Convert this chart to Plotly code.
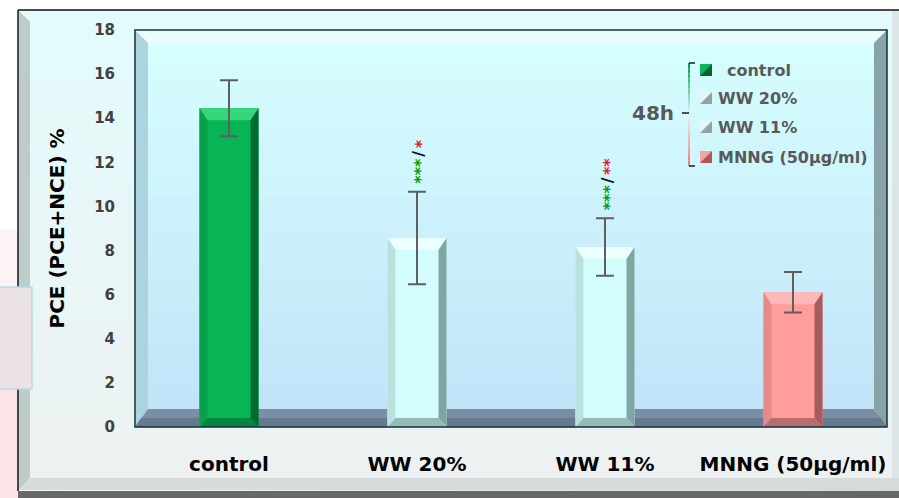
import plotly.graph_objects as go

# ---- data -------------------------------------------------------------
categories = ["control", "WW 20%", "WW 11%", "MNNG (50µg/ml)"]
pce_mean = [14.45, 8.57, 8.16, 6.11]
pce_err = [1.27, 2.10, 1.30, 0.92]
sig_vs_control = ["", "***", "***", ""]
sig_vs_mnng = ["", "*", "**", ""]
y_ticks = [0, 2, 4, 6, 8, 10, 12, 14, 16, 18]
group_label = "48h"

# ---- style --------------------------------------------------------------
FONT = "DejaVu Sans"
# face, top bevel, left bevel, right bevel, bottom bevel
bar_colors = [
    ("#08b556", "#36d67c", "#07a24c", "#006a30", "#05853f"),
    ("#d3fcfc", "#ebffff", "#b9e2de", "#7fa6a2", "#96bab6"),
    ("#d3fcfc", "#ebffff", "#b9e2de", "#7fa6a2", "#96bab6"),
    ("#ff9d9d", "#ffb8b8", "#e48a8a", "#a45c5c", "#b86c6c"),
]
legend_colors = [
    ("#0bb457", "#00692e"),
    ("#e6f5f5", "#8ea5a5"),
    ("#e6f5f5", "#8ea5a5"),
    ("#f5a3a3", "#b05858"),
]

W_PX, H_PX = 899, 498
L, R, T, B = 135, 887, 30, 427
BAR_HALF = 0.157
Y_MAX = 18.0
PX_PER_Y = (B - T) / Y_MAX
PX_PER_X = (R - L) / 4.0


def fx(px):
    return (px - L) / (R - L)


def fy(py):
    return (B - py) / (B - T)


def poly(points):
    pts = [f"{fx(x):.5f},{fy(y):.5f}" for x, y in points]
    return "M " + " L ".join(pts) + " Z"


def mix(c1, c2, t):
    a = [int(c1[i:i + 2], 16) for i in (1, 3, 5)]
    b = [int(c2[i:i + 2], 16) for i in (1, 3, 5)]
    return "#" + "".join(f"{round(a[k] + (b[k] - a[k]) * t):02x}" for k in range(3))


shapes = []


def add_poly(points, fill, layer="below", line=None):
    shapes.append(dict(type="path", path=poly(points), xref="paper", yref="paper",
                       fillcolor=fill, line=line or dict(width=0), layer=layer))


def add_rect(x0, y0, x1, y1, fill, layer="below", line=None):
    shapes.append(dict(type="rect", xref="paper", yref="paper",
                       x0=fx(x0), x1=fx(x1), y0=fy(y1), y1=fy(y0),
                       fillcolor=fill, line=line or dict(width=0), layer=layer))


def add_line(x0, y0, x1, y1, color, width, layer="below"):
    shapes.append(dict(type="line", xref="paper", yref="paper",
                       x0=fx(x0), x1=fx(x1), y0=fy(y0), y1=fy(y1),
                       line=dict(color=color, width=width), layer=layer))


# page haze on the left edge
add_rect(0, 230, 18, 380, "#fdf3f4")
add_rect(0, 380, 18, 498, "#fbe3e7")

# outer panel with a soft vertical gradient
n = 14
for i in range(n):
    y0 = 10 + (480 * i) / n
    y1 = 10 + (480 * (i + 1)) / n
    add_rect(18, y0, W_PX, y1 + 0.5, mix("#e3fbfc", "#eef1f1", i / (n - 1)))
# outer bevels
add_poly([(19, 11), (30, 22), (30, 478), (19, 490)], "#bdcbcb")
add_poly([(19, 490), (30, 478), (W_PX, 478), (W_PX, 491)], "#d6dbdb")
add_rect(18, 491, W_PX, H_PX, "#686868")
add_rect(892, 11, W_PX, 478, "#dde6e7")
add_line(18, 10, W_PX, 10, "#111111", 1.5)
add_line(18, 10, 18, 491, "#111111", 1.5)

# plot area gradient
n = 24
for i in range(n):
    y0 = T + ((B - T) * i) / n
    y1 = T + ((B - T) * (i + 1)) / n
    add_rect(L, y0, R, y1 + 0.5, mix("#d6ffff", "#c2e2f8", i / (n - 1)))
# plot area bevels
bw, bb = 13, 18
add_poly([(L, T), (R, T), (R - bw, T + bw), (L + bw, T + bw)], "#eafefe")
add_poly([(L, T), (L + bw, T + bw), (L + bw, B - bb), (L, B)], "#acd4de")
add_poly([(R, T), (R, B), (R - bw, B - bb), (R - bw, T + bw)], "#88a3a7")
add_poly([(L, B), (L + bw, B - bb), (R - bw, B - bb), (R, B)], "#7b8fa4")
add_poly([(L + 6, B - 9), (R - 6, B - 9), (R, B), (L, B)], "#66798e")

# side note box overlapping the frame
add_rect(-2, 287, 32, 389, "#ebe3e3", layer="above",
         line=dict(color="#b4dde6", width=1.5))

# plot border
shapes.append(dict(type="rect", xref="paper", yref="paper", x0=0, x1=1, y0=0, y1=1,
                   line=dict(color="#13303d", width=1.5), layer="above"))

# legend swatches
leg_y = [70, 98, 127, 157]
leg_x = [725, 716, 716, 716]
for (light, dark), yc in zip(legend_colors, leg_y):
    add_rect(700, yc - 6, 712, yc + 6, light, layer="above")
    add_poly([(712, yc - 6), (712, yc + 6), (700, yc + 6)], dark, layer="above")

# bracket grouping the legend entries
top_b, bot_b, mid_b = 63, 166, 113
steps = 20
for i in range(steps):
    y0 = top_b + (bot_b - top_b) * i / steps
    y1 = top_b + (bot_b - top_b) * (i + 1) / steps
    t = i / (steps - 1)
    if t < 0.5:
        c = mix("#00a651", "#e6f3f6", t / 0.5)
    else:
        c = mix("#e6f3f6", "#f07c7c", (t - 0.5) / 0.5)
    add_line(689, y0, 689, y1, c, 2, layer="above")
add_line(689, top_b, 695, top_b, "#1a1a1a", 1.5, layer="above")
add_line(689, bot_b, 695, bot_b, "#1a1a1a", 1.5, layer="above")
add_line(682, mid_b, 689, mid_b, "#1a1a1a", 1.5, layer="above")

fig = go.Figure()

xs = list(range(len(categories)))
fig.add_trace(go.Bar(
    x=xs, y=pce_mean, width=2 * BAR_HALF,
    marker=dict(color=[c[0] for c in bar_colors], line=dict(width=0)),
    showlegend=False, hoverinfo="skip",
))

# bevelled edges on every bar
dx = 8 / PX_PER_X
dy_top = 12 / PX_PER_Y
dy_bot = 9 / PX_PER_Y
for i, v in enumerate(pce_mean):
    x0, x1 = i - BAR_HALF, i + BAR_HALF
    face, top_c, left_c, right_c, bot_c = bar_colors[i]
    sides = [
        ([x0, x1, x1 - dx, x0 + dx], [v, v, v - dy_top, v - dy_top], top_c),
        ([x0, x0 + dx, x0 + dx, x0], [v, v - dy_top, dy_bot, 0], left_c),
        ([x1, x1, x1 - dx, x1 - dx], [v, 0, dy_bot, v - dy_top], right_c),
        ([x0, x1, x1 - dx, x0 + dx], [0, 0, dy_bot, dy_bot], bot_c),
    ]
    for sx, sy, col in sides:
        fig.add_trace(go.Scatter(
            x=sx + [sx[0]], y=sy + [sy[0]], mode="lines", fill="toself",
            fillcolor=col, line=dict(width=0), showlegend=False, hoverinfo="skip",
        ))

# error bars
fig.add_trace(go.Scatter(
    x=xs, y=pce_mean, mode="markers", marker=dict(size=1, opacity=0),
    error_y=dict(type="data", array=pce_err, visible=True,
                 color="#5f5f5f", thickness=2, width=9),
    showlegend=False, hoverinfo="skip",
))

annotations = []
# significance marks stacked vertically above the error bars
SIG_SIZE = 16
AST_W = 0.5 * SIG_SIZE      # advance of one asterisk
SLASH_W = 0.365 * SIG_SIZE  # advance of the slash


def sig_part(i, text, color, shift_y, shift_x):
    annotations.append(dict(
        x=i, y=pce_mean[i] + pce_err[i], xref="x", yref="y",
        text=text, textangle=-90, showarrow=False,
        yanchor="bottom", xanchor="center", yshift=shift_y, xshift=shift_x,
        borderpad=0,
        font=dict(family=FONT, size=SIG_SIZE, color=color, weight="bold"),
    ))


for i, (g, r) in enumerate(zip(sig_vs_control, sig_vs_mnng)):
    if not g:
        continue
    ys = 7
    sig_part(i, g, "#00a000", ys, 4)
    ys += len(g) * AST_W + 3
    sig_part(i, "/", "#111111", ys, 2)
    ys += SLASH_W + 2
    sig_part(i, r, "#e31b1b", ys, 4)

# legend labels
for name, xl, yc in zip(categories, leg_x, leg_y):
    annotations.append(dict(
        x=fx(xl), y=fy(yc), xref="paper", yref="paper", text=name,
        showarrow=False, xanchor="left", yanchor="middle",
        font=dict(family=FONT, size=16, color="#595959", weight="bold"),
    ))
annotations.append(dict(
    x=fx(676), y=fy(mid_b), xref="paper", yref="paper", text=group_label,
    showarrow=False, xanchor="right", yanchor="middle",
    font=dict(family=FONT, size=20, color="#595959", weight="bold"),
))

fig.update_layout(
    width=W_PX, height=H_PX,
    margin=dict(l=L, r=W_PX - R, t=T, b=H_PX - B, pad=0),
    paper_bgcolor="#ffffff", plot_bgcolor="#cdeefb",
    barmode="overlay",
    shapes=shapes, annotations=annotations,
    showlegend=False,
    xaxis=dict(
        range=[-0.5, 3.5], tickmode="array", tickvals=xs, ticktext=categories,
        showgrid=False, zeroline=False, showline=False,
        ticks="outside", ticklen=19, tickcolor="rgba(0,0,0,0)",
        tickfont=dict(family=FONT, size=20, color="#000000", weight="bold"),
        fixedrange=True,
    ),
    yaxis=dict(
        range=[0, Y_MAX], tickmode="array", tickvals=y_ticks,
        showgrid=False, zeroline=False, showline=False,
        ticks="outside", ticklen=16, tickcolor="rgba(0,0,0,0)",
        tickfont=dict(family=FONT, size=15, color="#404040", weight="bold"),
        title=dict(text="PCE (PCE+NCE) %", standoff=24,
                   font=dict(family=FONT, size=20, color="#000000", weight="bold")),
        fixedrange=True,
    ),
)

fig.write_html("out.html")
